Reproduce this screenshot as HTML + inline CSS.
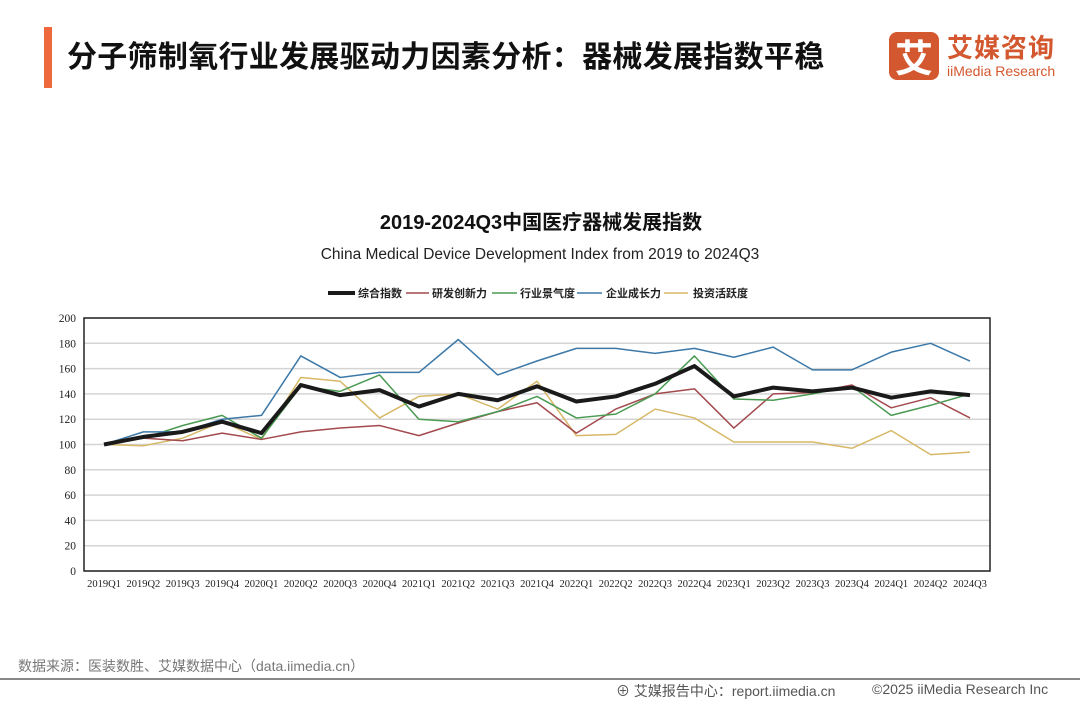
<!DOCTYPE html>
<html><head><meta charset="utf-8">
<style>
body{margin:0;width:1080px;height:702px;background:#fff;position:relative;overflow:hidden;font-family:"Liberation Sans","Noto Sans CJK SC",sans-serif;}
.abs{position:absolute;}
</style></head>
<body>
<div class="abs" style="left:44px;top:27px;width:8px;height:61px;background:#ee6a3c;"></div>
<div class="abs" style="left:67px;top:32px;font-size:30px;font-weight:bold;color:#111;font-family:'Noto Sans CJK SC',sans-serif;letter-spacing:0.3px;white-space:nowrap;">分子筛制氧行业发展驱动力因素分析：器械发展指数平稳</div>
<div class="abs" style="left:889px;top:32px;width:170px;height:50px;">
  <div style="position:absolute;left:0;top:0;width:50px;height:48px;background:#d4582f;border-radius:8px;color:#fff;font-size:38px;font-weight:bold;line-height:48px;text-align:center;font-family:'Noto Sans CJK SC',sans-serif;">艾</div>
  <div style="position:absolute;left:58px;top:-4px;font-size:26px;font-weight:bold;color:#d4582f;font-family:'Noto Sans CJK SC',sans-serif;white-space:nowrap;letter-spacing:1px;">艾媒咨询</div>
  <div style="position:absolute;left:58px;top:31px;font-size:14px;color:#d4582f;white-space:nowrap;">iiMedia Research</div>
</div>
<svg class="abs" style="left:0;top:0" width="1080" height="702" id="chart">
  <text x="541" y="229" text-anchor="middle" font-size="20" font-weight="bold" fill="#111" font-family="Liberation Sans, Noto Sans CJK SC, sans-serif">2019-2024Q3中国医疗器械发展指数</text>
  <text x="540" y="259" text-anchor="middle" font-size="15.5" fill="#222" font-family="Liberation Sans, sans-serif">China Medical Device Development Index from 2019 to 2024Q3</text>
</svg>
<div class="abs" style="left:18px;top:656px;font-size:14px;color:#777;white-space:nowrap;">数据来源：医装数胜、艾媒数据中心（data.iimedia.cn）</div>
<div class="abs" style="left:0;top:678px;width:1080px;height:2px;background:#888;"></div>
<div class="abs" style="left:616px;top:681px;font-size:14px;color:#555;white-space:nowrap;">⊕ 艾媒报告中心：report.iimedia.cn</div>
<div class="abs" style="left:872px;top:681px;font-size:14px;color:#555;white-space:nowrap;">©2025  iiMedia Research  Inc</div>
<script>
const categories=["2019Q1","2019Q2","2019Q3","2019Q4","2020Q1","2020Q2","2020Q3","2020Q4","2021Q1","2021Q2","2021Q3","2021Q4","2022Q1","2022Q2","2022Q3","2022Q4","2023Q1","2023Q2","2023Q3","2023Q4","2024Q1","2024Q2","2024Q3"];
const yTicks=[0,20,40,60,80,100,120,140,160,180,200];
const seriesNames=["综合指数","研发创新力","行业景气度","企业成长力","投资活跃度"];
const composite=[100,106,110,118,109,147,139,143,130,140,135,146,134,138,148,162,138,145,142,145,137,142,139];
const rd=[100,105,103,109,104,110,113,115,107,117,126,133,109,128,140,144,113,140,141,147,129,137,121];
const industry=[100,105,115,123,105,146,142,155,120,118,126,138,121,124,140,170,136,135,140,146,123,131,140];
const growth=[100,110,110,120,123,170,153,157,157,183,155,166,176,176,172,176,169,177,159,159,173,180,166];
const invest=[100,99,105,118,104,153,150,121,138,140,128,150,107,108,128,121,102,102,102,97,111,92,94];

const svg=document.getElementById('chart');
const NS='http://www.w3.org/2000/svg';
const L=84,R=990,T=318,B=571,X0=104,X1=970;
const xs=i=>X0+(X1-X0)*i/(categories.length-1);
const ys=v=>B-(B-T)*v/200;
function mk(tag,attrs){const e=document.createElementNS(NS,tag);for(const k in attrs)e.setAttribute(k,attrs[k]);svg.appendChild(e);return e;}
yTicks.forEach(v=>{
  const g=mk('line',{x1:L,x2:R,y1:ys(v),y2:ys(v),stroke:'#d4d4d4','stroke-width':1.5});
  
  
  const t=mk('text',{x:L-8,y:ys(v)+4,'text-anchor':'end','font-size':11.5,fill:'#222','font-family':'Liberation Serif, serif'});
  t.textContent=v;
  
  
});
categories.forEach((c,i)=>{
  const t=mk('text',{x:xs(i),y:587,'text-anchor':'middle','font-size':10.5,fill:'#222','font-family':'Liberation Serif, serif'});
  t.textContent=c;
  
  
});
const frame=mk('rect',{x:L,y:T,width:R-L,height:B-T,fill:'none',stroke:'#222','stroke-width':1.5});


const series=[[invest,'#d6b867',1.5,'invest-line'],[rd,'#a34a4f',1.5,'rd-line'],[industry,'#4a9a52',1.5,'industry-line'],[growth,'#3b78a8',1.5,'growth-line'],[composite,'#1a1a1a',4,'composite-line']];
series.forEach(s=>{
  const p=mk('polyline',{points:s[0].map((v,i)=>xs(i)+','+ys(v)).join(' '),fill:'none',stroke:s[1],'stroke-width':s[2],'stroke-linejoin':'round'});
  
  
});
const legend=[['#1a1a1a',4,328,355,358],['#a34a4f',1.5,406,429,432],['#4a9a52',1.5,492,517,520],['#3b78a8',1.5,577,602,606],['#d6b867',1.5,664,688,693]];
[0,1,2,3,4].forEach(i=>{
  const lg=legend[i];
  const l=mk('line',{x1:lg[2],x2:lg[3],y1:293,y2:293,stroke:lg[0],'stroke-width':lg[1]});
  
  
  const t=mk('text',{x:lg[4],y:297,'font-size':11,'font-weight':'bold',fill:'#222','font-family':'Noto Sans CJK SC, sans-serif'});
  t.textContent=seriesNames[i];
  
  
});
</script>
</body></html>
